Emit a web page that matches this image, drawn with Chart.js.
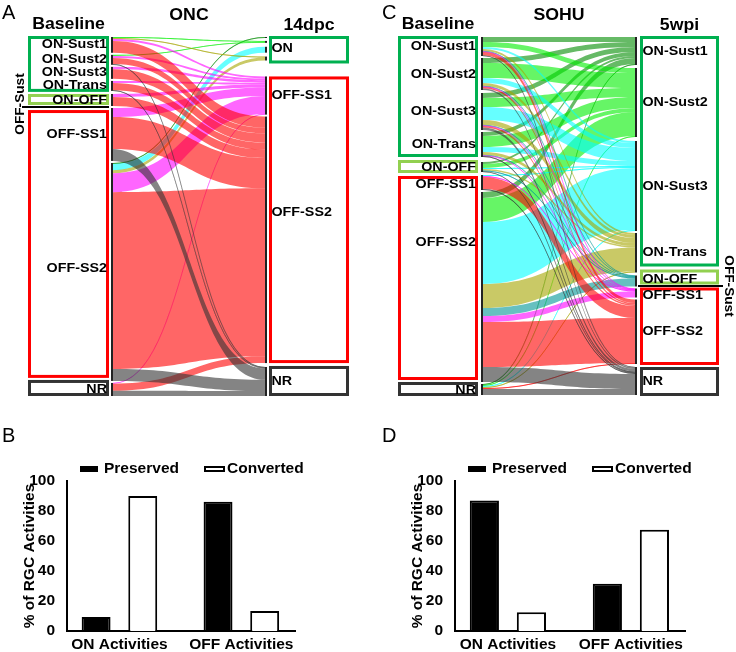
<!DOCTYPE html>
<html>
<head>
<meta charset="utf-8">
<script src="https://cdn.jsdelivr.net/npm/chart.js@4.4.1/dist/chart.umd.min.js"></script>
<style>
  html, body { margin: 0; padding: 0; background: #fff; }
  #fig { position: relative; width: 736px; height: 652px; font-family: Arial, "Liberation Sans", sans-serif; }
  canvas { position: absolute; }
  .tag { position: absolute; font-size: 20px; line-height: 20px; color: #000; }
</style>
</head>
<body>
<div id="fig">
  <canvas id="onc" width="368" height="400" style="left:0;top:0;width:368px;height:400px"></canvas>
  <canvas id="sohu" width="368" height="400" style="left:368px;top:0;width:368px;height:400px"></canvas>
  <canvas id="oncBars" width="368" height="252" style="left:0;top:400px;width:368px;height:252px"></canvas>
  <canvas id="sohuBars" width="368" height="252" style="left:368px;top:400px;width:368px;height:252px"></canvas>
  <div class="tag" style="left:2px;top:2px">A</div>
  <div class="tag" style="left:382px;top:2px">C</div>
  <div class="tag" style="left:2px;top:425px">B</div>
  <div class="tag" style="left:382px;top:425px">D</div>
</div>
<script>
(function () {
    const fontFamily = 'Arial, "Liberation Sans", sans-serif';

    // RGC response types, top to bottom
    const nodeNames = ['ON-Sust1', 'ON-Sust2', 'ON-Sust3', 'ON-Trans', 'ON-OFF', 'OFF-SS1', 'OFF-SS2', 'NR'];

    // [baseline type, later type, % of cells]
    const oncFlows = [
        ['ON-Sust1', 'ON-Sust2', 0.3], ['ON-Sust1', 'ON-Trans', 0.3], ['ON-Sust1', 'OFF-SS1', 0.6], ['ON-Sust1', 'OFF-SS2', 3.4],
        ['ON-Sust2', 'ON-Sust2', 0.3], ['ON-Sust2', 'OFF-SS1', 0.6], ['ON-Sust2', 'OFF-SS2', 1.8], ['ON-Sust2', 'NR', 0.2],
        ['ON-Sust3', 'OFF-SS1', 0.7], ['ON-Sust3', 'OFF-SS2', 2.8],
        ['ON-Trans', 'OFF-SS1', 0.6], ['ON-Trans', 'OFF-SS2', 2.1], ['ON-Trans', 'NR', 0.2],
        ['ON-OFF', 'OFF-SS1', 0.9], ['ON-OFF', 'OFF-SS2', 2.6],
        ['OFF-SS1', 'OFF-SS1', 2.6], ['OFF-SS1', 'OFF-SS2', 9.3], ['OFF-SS1', 'NR', 3.5],
        ['OFF-SS2', 'ON-Sust1', 0.3], ['OFF-SS2', 'ON-Sust3', 1.8], ['OFF-SS2', 'ON-Trans', 0.9],
        ['OFF-SS2', 'OFF-SS1', 5.5], ['OFF-SS2', 'OFF-SS2', 51.5], ['OFF-SS2', 'NR', 3.5],
        ['NR', 'OFF-SS1', 0.2], ['NR', 'OFF-SS2', 2.1], ['NR', 'NR', 1.5]
    ];

    const sohuFlows = [
        ['ON-Sust1', 'ON-Sust1', 5], ['ON-Sust1', 'ON-Sust2', 5], ['ON-Sust1', 'ON-Sust3', 2], ['ON-Sust1', 'ON-Trans', 2],
        ['ON-Sust1', 'ON-OFF', 0.5], ['ON-Sust1', 'OFF-SS1', 0.5], ['ON-Sust1', 'OFF-SS2', 3.5], ['ON-Sust1', 'NR', 0.5],
        ['ON-Sust2', 'ON-Sust1', 5], ['ON-Sust2', 'ON-Sust2', 15], ['ON-Sust2', 'ON-Sust3', 5], ['ON-Sust2', 'ON-Trans', 3],
        ['ON-Sust2', 'ON-OFF', 0.5], ['ON-Sust2', 'OFF-SS1', 0.5], ['ON-Sust2', 'OFF-SS2', 1.5], ['ON-Sust2', 'NR', 1.5],
        ['ON-Sust3', 'ON-Sust1', 5], ['ON-Sust3', 'ON-Sust2', 9], ['ON-Sust3', 'ON-Sust3', 13], ['ON-Sust3', 'ON-Trans', 5],
        ['ON-Sust3', 'ON-OFF', 0.5], ['ON-Sust3', 'OFF-SS1', 0.5], ['ON-Sust3', 'OFF-SS2', 1.5], ['ON-Sust3', 'NR', 2.5],
        ['ON-Trans', 'ON-Sust1', 4], ['ON-Trans', 'ON-Sust2', 11], ['ON-Trans', 'ON-Sust3', 5], ['ON-Trans', 'ON-Trans', 3],
        ['ON-Trans', 'ON-OFF', 0.5], ['ON-Trans', 'OFF-SS1', 0.5], ['ON-Trans', 'NR', 1],
        ['ON-OFF', 'ON-Sust1', 2], ['ON-OFF', 'ON-Sust2', 4], ['ON-OFF', 'ON-Sust3', 1], ['ON-OFF', 'ON-Trans', 1.5],
        ['ON-OFF', 'ON-OFF', 1], ['ON-OFF', 'NR', 0.5],
        ['OFF-SS1', 'ON-Sust3', 1], ['OFF-SS1', 'OFF-SS1', 1], ['OFF-SS1', 'OFF-SS2', 12], ['OFF-SS1', 'NR', 1],
        ['OFF-SS2', 'ON-Sust1', 6], ['OFF-SS2', 'ON-Sust2', 24], ['OFF-SS2', 'ON-Sust3', 62], ['OFF-SS2', 'ON-Trans', 24],
        ['OFF-SS2', 'ON-OFF', 8], ['OFF-SS2', 'OFF-SS1', 6], ['OFF-SS2', 'OFF-SS2', 45], ['OFF-SS2', 'NR', 15],
        ['NR', 'ON-Sust1', 1], ['NR', 'ON-Sust2', 1], ['NR', 'ON-Sust3', 1], ['NR', 'ON-Trans', 1], ['NR', 'OFF-SS2', 1], ['NR', 'NR', 6]
    ];

    const barCategories = ['ON Activities', 'OFF Activities'];
    const oncPreserved = [9.3, 86.2];
    const oncConverted = [90, 13.3];
    const sohuPreserved = [87, 31.5];
    const sohuConverted = [12.5, 67.5];

    const flowColors = {
        'ON-Sust1': 'rgba(0, 140, 0, 0.6)',
        'ON-Sust2': 'rgba(0, 238, 0, 0.6)',
        'ON-Sust3': 'rgba(0, 255, 255, 0.6)',
        'ON-Trans': 'rgba(165, 165, 0, 0.6)',
        'ON-OFF': 'rgba(0, 150, 150, 0.6)',
        'OFF-SS1': 'rgba(255, 0, 255, 0.6)',
        'OFF-SS2': 'rgba(255, 0, 0, 0.6)',
        'NR': 'rgba(50, 50, 50, 0.6)'
    };
    const onGroup = ['ON-Sust1', 'ON-Sust2', 'ON-Sust3', 'ON-Trans'];
    const offGroup = ['OFF-SS1', 'OFF-SS2'];

    const rank = function (n) { return nodeNames.indexOf(n); };

    function stackNodes(flows, side, gaps) {
        const names = nodeNames.filter(function (n) {
            return flows.some(function (f) { return f[side] === n; });
        });
        let pos = 0;
        return names.map(function (name, i) {
            if (i > 0) pos += gaps[i - 1];
            const value = flows.filter(function (f) { return f[side] === name; })
                .reduce(function (a, f) { return a + f[2]; }, 0);
            const node = { name: name, start: pos, end: pos + value };
            pos += value;
            return node;
        });
    }

    // text slightly widened, like the source figure
    function wideText(ctx, text, x, y, align, sx) {
        ctx.save();
        ctx.translate(x, y);
        ctx.scale(sx, 1);
        ctx.textAlign = align;
        ctx.fillText(text, 0, 0);
        ctx.restore();
    }

    const sankeyPlugin = {
        id: 'sankey',
        afterDraw: function (chart, args, o) {
            const ctx = chart.ctx;
            const xs = chart.scales.x, yL = chart.scales.yL, yR = chart.scales.yR;
            const xl = xs.getPixelForValue(0), xr = xs.getPixelForValue(1);
            const bar = 2;
            const left = stackNodes(o.flows, 0, o.gapsLeft);
            const right = stackNodes(o.flows, 1, o.gapsRight);

            const ribbons = o.flows.map(function (f) { return { from: f[0], to: f[1], v: f[2] }; });
            left.forEach(function (node) {
                let y = node.start;
                ribbons.filter(function (r) { return r.from === node.name; })
                    .sort(function (a, b) { return rank(a.to) - rank(b.to); })
                    .forEach(function (r) { r.a0 = y; y += r.v; r.a1 = y; });
            });
            right.forEach(function (node) {
                let y = node.start;
                ribbons.filter(function (r) { return r.to === node.name; })
                    .sort(function (a, b) { return rank(a.from) - rank(b.from); })
                    .forEach(function (r) { r.b0 = y; y += r.v; r.b1 = y; });
            });
            ribbons.sort(function (a, b) {
                return (rank(a.to) - rank(b.to)) || (rank(a.from) - rank(b.from));
            });

            const x0 = xl + bar, x1 = xr - bar, xm = (x0 + x1) / 2;
            ctx.save();
            ribbons.forEach(function (r) {
                const ya0 = yL.getPixelForValue(r.a0), ya1 = yL.getPixelForValue(r.a1);
                const yb0 = yR.getPixelForValue(r.b0), yb1 = yR.getPixelForValue(r.b1);
                ctx.fillStyle = flowColors[r.to];
                ctx.beginPath();
                ctx.moveTo(x0, ya0);
                ctx.bezierCurveTo(xm, ya0, xm, yb0, x1, yb0);
                ctx.lineTo(x1, yb1);
                ctx.bezierCurveTo(xm, yb1, xm, ya1, x0, ya1);
                ctx.closePath();
                ctx.fill();
                if (ya1 - ya0 < 1.2) {
                    const ym0 = (ya0 + ya1) / 2, ym1 = (yb0 + yb1) / 2;
                    ctx.strokeStyle = flowColors[r.to];
                    ctx.lineWidth = 0.8;
                    ctx.beginPath();
                    ctx.moveTo(x0, ym0);
                    ctx.bezierCurveTo(xm, ym0, xm, ym1, x1, ym1);
                    ctx.stroke();
                }
            });

            // node bars
            ctx.fillStyle = '#222';
            left.forEach(function (n) {
                const t = yL.getPixelForValue(n.start), b = yL.getPixelForValue(n.end);
                ctx.fillRect(xl, t, bar, Math.max(b - t, 1));
            });
            right.forEach(function (n) {
                const t = yR.getPixelForValue(n.start), b = yR.getPixelForValue(n.end);
                ctx.fillRect(xr - bar, t, bar, Math.max(b - t, 1));
            });

            // group boxes
            function drawBoxes(groups, nodes, scale, bx, bw) {
                groups.forEach(function (g) {
                    const ns = nodes.filter(function (n) { return g.nodes.indexOf(n.name) >= 0; });
                    if (!ns.length) return;
                    const top = scale.getPixelForValue(ns[0].start) - (g.pad ? g.pad[0] : 1);
                    const bottom = scale.getPixelForValue(ns[ns.length - 1].end) + (g.pad ? g.pad[1] : 1);
                    ctx.strokeStyle = g.color;
                    ctx.lineWidth = 3;
                    ctx.strokeRect(bx + 1.5, top + 1.5, bw - 3, bottom - top - 3);
                });
            }
            const lbx = xl - o.boxGap - o.boxWidthLeft;
            const rbx = xr + o.boxGap;
            drawBoxes(o.boxesLeft, left, yL, lbx, o.boxWidthLeft);
            drawBoxes(o.boxesRight, right, yR, rbx, o.boxWidthRight);

            // labels
            ctx.fillStyle = '#000';
            ctx.font = 'bold 13px ' + fontFamily;
            ctx.textBaseline = 'middle';
            function drawLabels(labels, nodes, scale, x, align) {
                labels.forEach(function (l) {
                    const ns = nodes.filter(function (n) { return l.nodes.indexOf(n.name) >= 0; });
                    if (!ns.length) return;
                    const y = (scale.getPixelForValue(ns[0].start) + scale.getPixelForValue(ns[ns.length - 1].end)) / 2;
                    wideText(ctx, l.text, x, y + (l.dy || 0), align, 1.1);
                });
            }
            drawLabels(o.labelsLeft, left, yL, xl - o.boxGap - 2, 'right');
            drawLabels(o.labelsRight, right, yR, rbx + 2.5, 'left');

            // titles
            ctx.font = 'bold 17px ' + fontFamily;
            wideText(ctx, o.titles[0], lbx + o.boxWidthLeft / 2, 24, 'center', 1.04);
            wideText(ctx, o.titles[1], (xl + xr) / 2, 15, 'center', 1.04);
            wideText(ctx, o.titles[2], rbx + o.boxWidthRight / 2, 25, 'center', 1.04);

            // OFF-Sust marker
            const s = o.sust;
            const nodes = s.side === 'left' ? left : right;
            const scale = s.side === 'left' ? yL : yR;
            const a = nodes.find(function (n) { return n.name === 'ON-OFF'; });
            const b = nodes.find(function (n) { return n.name === 'OFF-SS1'; });
            const y = Math.round((scale.getPixelForValue(a.end) + scale.getPixelForValue(b.start)) / 2) + s.dy;
            const dir = s.side === 'left' ? -1 : 1;
            const base = s.side === 'left' ? xl : xr;
            ctx.fillStyle = '#000';
            ctx.fillRect(Math.min(base + dir * s.near, base + dir * s.far), y - 1, Math.abs(s.far - s.near), 2);
            ctx.translate(base + dir * s.text, y + s.textDy);
            ctx.rotate(dir * Math.PI / 2);
            ctx.font = 'bold 13px ' + fontFamily;
            ctx.textBaseline = 'middle';
            wideText(ctx, 'OFF-Sust', 0, 0, 'center', 1.05);
            ctx.restore();
        }
    };

    function sum(arr) { return arr.reduce(function (a, v) { return a + v; }, 0); }

    function sankeyConfig(flows, o) {
        const total = sum(flows.map(function (f) { return f[2]; }));
        return {
            type: 'scatter',
            data: { datasets: [] },
            options: {
                responsive: false,
                animation: false,
                layout: { padding: o.padding },
                scales: {
                    x: { type: 'linear', display: false, min: 0, max: 1 },
                    y: { display: false },
                    yL: { axis: 'y', type: 'linear', display: false, reverse: true, min: 0, max: total + sum(o.gapsLeft) },
                    yR: { axis: 'y', type: 'linear', display: false, reverse: true, min: 0, max: total + sum(o.gapsRight) }
                },
                plugins: {
                    legend: { display: false },
                    tooltip: { enabled: false },
                    sankey: Object.assign({ flows: flows }, o)
                }
            },
            plugins: [sankeyPlugin]
        };
    }

    const ownLabels = function (dyMap) {
        return nodeNames.map(function (n) { return { text: n, nodes: [n], dy: dyMap[n] || 0 }; });
    };

    new Chart(document.getElementById('onc'), sankeyConfig(oncFlows, {
        padding: { left: 111, right: 101, top: 37, bottom: 4 },
        gapsLeft: [0.6, 0.6, 0.6, 0.9, 0.6, 0.6, 0.6],
        gapsRight: [0.9, 1.2, 1.2, 4.9, 0.6, 1.2],
        boxGap: 2, boxWidthLeft: 81, boxWidthRight: 80,
        boxesLeft: [
            { nodes: onGroup, color: '#00b050' },
            { nodes: ['ON-OFF'], color: '#92d050', pad: [0, -1] },
            { nodes: offGroup, color: '#ff0000', pad: [-2, -3] },
            { nodes: ['NR'], color: '#333333', pad: [3, 0] }
        ],
        boxesRight: [
            { nodes: onGroup, color: '#00b050', pad: [1, 3] },
            { nodes: offGroup, color: '#ff0000', pad: [0, 0] },
            { nodes: ['NR'], color: '#333333', pad: [1, 0] }
        ],
        labelsLeft: ownLabels({ 'OFF-SS2': -4 }),
        labelsRight: [
            { text: 'ON', nodes: onGroup },
            { text: 'OFF-SS1', nodes: ['OFF-SS1'] },
            { text: 'OFF-SS2', nodes: ['OFF-SS2'], dy: -27 },
            { text: 'NR', nodes: ['NR'] }
        ],
        titles: ['Baseline', 'ONC', '14dpc'],
        sust: { side: 'left', near: 2, far: 89, text: 91, dy: 0, textDy: -3 }
    }));

    new Chart(document.getElementById('sohu'), sankeyConfig(sohuFlows, {
        padding: { left: 113, right: 99, top: 37, bottom: 5 },
        gapsLeft: [2, 3, 2, 5, 3, 2, 2],
        gapsRight: [3, 4, 2, 3, 2, 2, 3],
        boxGap: 3, boxWidthLeft: 80, boxWidthRight: 79,
        boxesLeft: [
            { nodes: onGroup, color: '#00b050', pad: [1, 0] },
            { nodes: ['ON-OFF'], color: '#92d050', pad: [2, 1] },
            { nodes: offGroup, color: '#ff0000', pad: [-1, -2] },
            { nodes: ['NR'], color: '#333333', pad: [2, 1] }
        ],
        boxesRight: [
            { nodes: onGroup, color: '#00b050', pad: [1, -6] },
            { nodes: ['ON-OFF'], color: '#92d050', pad: [6, -2] },
            { nodes: offGroup, color: '#ff0000', pad: [1, 1] },
            { nodes: ['NR'], color: '#333333', pad: [0, 1] }
        ],
        labelsLeft: ownLabels({ 'OFF-SS1': 2, 'OFF-SS2': -45, 'NR': 1 }),
        labelsRight: ownLabels({ 'ON-OFF': -2, 'OFF-SS1': 2 }),
        titles: ['Baseline', 'SOHU', '5wpi'],
        sust: { side: 'right', near: 1, far: 86, text: 92, dy: -2, textDy: 0 }
    }));

    const legendPlugin = {
        id: 'pairLegend',
        afterDraw: function (chart, args, o) {
            const ctx = chart.ctx, a = chart.chartArea;
            const y = a.top - 12;
            ctx.save();
            ctx.font = 'bold 15.5px ' + fontFamily;
            ctx.textBaseline = 'middle';
            ctx.textAlign = 'left';
            chart.data.datasets.forEach(function (ds, i) {
                const it = o.items[i];
                const bx = a.left + it.box;
                ctx.fillStyle = ds.backgroundColor;
                ctx.fillRect(bx, y - 3, it.width, 6);
                ctx.strokeStyle = ds.borderColor;
                ctx.lineWidth = 2;
                ctx.strokeRect(bx + 1, y - 2, it.width - 2, 4);
                ctx.fillStyle = '#000';
                ctx.fillText(ds.label, a.left + it.text, y);
            });
            ctx.restore();
        }
    };

    function barConfig(preserved, converted, axisLeft, axisRight) {
        const font = { family: fontFamily, size: 15.5, weight: 'bold' };
        const barOpts = { categoryPercentage: 0.765, barPercentage: 0.62, borderColor: '#000', borderWidth: 2 };
        return {
            type: 'bar',
            data: {
                datasets: [
                    Object.assign({ label: 'Preserved', backgroundColor: '#000',
                        data: preserved.map(function (v, i) { return { x: i, y: v }; }) }, barOpts),
                    Object.assign({ label: 'Converted', backgroundColor: '#fff',
                        data: converted.map(function (v, i) { return { x: i, y: v }; }) }, barOpts)
                ]
            },
            options: {
                responsive: false,
                animation: false,
                layout: { padding: { left: 0, right: 368 - axisRight, top: 81, bottom: 0 } },
                scales: {
                    x: {
                        type: 'linear', min: -0.43, max: 1.44, offset: false,
                        afterBuildTicks: function (s) {
                            s.ticks = barCategories.map(function (c, i) { return { value: i }; });
                        },
                        afterFit: function (s) { s.height = 21; },
                        ticks: {
                            callback: function (v) { return barCategories[v]; },
                            font: font, color: '#000', padding: -4, autoSkip: false, maxRotation: 0
                        },
                        grid: { display: false },
                        border: { color: '#000', width: 2 }
                    },
                    y: {
                        min: 0, max: 100,
                        afterFit: function (s) { s.width = axisLeft; },
                        ticks: { stepSize: 20, font: font, color: '#000', padding: 4 },
                        grid: { display: false },
                        border: { color: '#000', width: 2 },
                        title: {
                            display: true, text: '% of RGC Activities', font: font, color: '#000',
                            padding: { top: axisLeft - 47, bottom: 0 }
                        }
                    }
                },
                plugins: {
                    legend: { display: false },
                    tooltip: { enabled: false },
                    pairLegend: {
                        items: [
                            { box: 13, width: 18, text: 37 },
                            { box: 137, width: 21, text: 160 }
                        ]
                    }
                }
            },
            plugins: [legendPlugin]
        };
    }

    new Chart(document.getElementById('oncBars'), barConfig(oncPreserved, oncConverted, 67, 295));
    new Chart(document.getElementById('sohuBars'), barConfig(sohuPreserved, sohuConverted, 87, 317));
})();
</script>
</body>
</html>
